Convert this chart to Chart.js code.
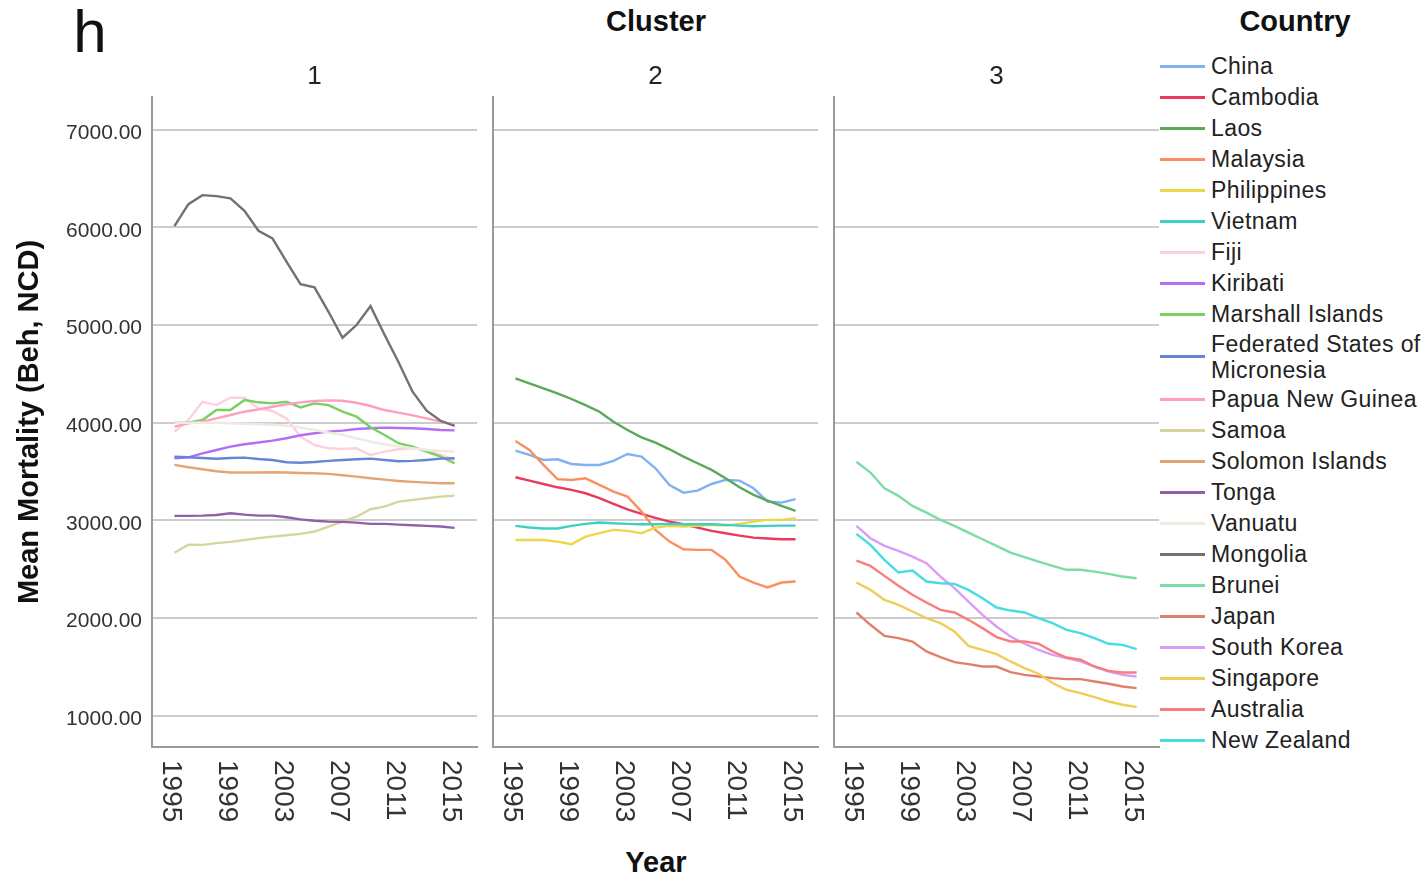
<!DOCTYPE html>
<html>
<head>
<meta charset="utf-8">
<title>Mean Mortality by Cluster</title>
<script src="https://cdn.jsdelivr.net/npm/chart.js@4.4.1/dist/chart.umd.min.js"></script>
<style>
  html, body { margin: 0; padding: 0; background: #fff; }
  body {
    width: 1427px; height: 880px; position: relative; overflow: hidden;
    font-family: "Liberation Sans", Arial, sans-serif; color: #111;
  }
  canvas { position: absolute; top: 0; }
  .lbl { position: absolute; transform: translate(-50%, -50%); line-height: 1; white-space: nowrap; }
  .big { font-size: 29px; font-weight: bold; }
  .panel { font-size: 26px; color: #222; }
  #legend { position: absolute; left: 1160px; top: 50.5px; }
  .item { display: flex; align-items: center; min-height: 31px; padding: 1px 0; box-sizing: border-box; }
  .swatch { width: 45px; height: 3px; margin-right: 6px; flex: none; }
  .name { font-size: 23px; letter-spacing: 0.4px; line-height: 26px; width: 216px; color: #222; }
</style>
</head>
<body>

<div class="lbl" style="left:90px; top:32px; font-size:60px;">h</div>
<div class="lbl big" style="left:656px; top:20.5px;">Cluster</div>
<div class="lbl big" style="left:1295px; top:20.5px;">Country</div>
<div class="lbl big" style="left:656px; top:862px;">Year</div>
<div id="legend"></div>

<script>
// ---- data ----
const years = [1995, 1996, 1997, 1998, 1999, 2000, 2001, 2002, 2003, 2004, 2005,
               2006, 2007, 2008, 2009, 2010, 2011, 2012, 2013, 2014, 2015];
const yearTicks = [1995, 1999, 2003, 2007, 2011, 2015];
const mortalityTicks = [1000, 2000, 3000, 4000, 5000, 6000, 7000];
const clusters = ['1', '2', '3'];

const countries = ['China', 'Cambodia', 'Laos', 'Malaysia', 'Philippines', 'Vietnam',
  'Fiji', 'Kiribati', 'Marshall Islands', 'Federated States of Micronesia',
  'Papua New Guinea', 'Samoa', 'Solomon Islands', 'Tonga', 'Vanuatu', 'Mongolia',
  'Brunei', 'Japan', 'South Korea', 'Singapore', 'Australia', 'New Zealand'];
const countryCluster = ['2', '2', '2', '2', '2', '2',
  '1', '1', '1', '1', '1', '1', '1', '1', '1', '1',
  '3', '3', '3', '3', '3', '3'];

// cluster 2
const china       = [3714, 3670, 3619, 3626, 3578, 3568, 3568, 3609, 3680, 3653, 3534, 3363, 3284, 3305, 3373, 3414, 3407, 3329, 3193, 3182, 3217];
const cambodia    = [3442, 3407, 3373, 3339, 3312, 3278, 3227, 3169, 3114, 3066, 3025, 2988, 2961, 2926, 2893, 2869, 2844, 2824, 2814, 2807, 2807];
const laos        = [4455, 4403, 4352, 4301, 4243, 4181, 4113, 4011, 3926, 3851, 3797, 3728, 3653, 3585, 3517, 3431, 3339, 3261, 3203, 3148, 3097];
const malaysia    = [3813, 3721, 3568, 3422, 3414, 3431, 3363, 3295, 3244, 3090, 2903, 2783, 2705, 2698, 2698, 2596, 2425, 2364, 2313, 2364, 2374];
const philippines = [2800, 2800, 2800, 2783, 2756, 2834, 2869, 2903, 2893, 2869, 2926, 2944, 2937, 2944, 2954, 2947, 2964, 2988, 3005, 3005, 3022];
const vietnam     = [2944, 2927, 2917, 2917, 2944, 2964, 2978, 2971, 2964, 2961, 2961, 2964, 2961, 2961, 2961, 2954, 2947, 2940, 2944, 2947, 2947];
// cluster 1
const fiji        = [3908, 4028, 4215, 4181, 4256, 4256, 4148, 4120, 4045, 3857, 3772, 3738, 3731, 3738, 3670, 3704, 3728, 3738, 3721, 3670, 3619];
const kiribati    = [3636, 3646, 3687, 3721, 3756, 3780, 3797, 3817, 3841, 3872, 3892, 3909, 3919, 3936, 3943, 3950, 3946, 3943, 3936, 3926, 3922];
const marshall    = [4000, 4000, 4028, 4130, 4130, 4233, 4209, 4198, 4215, 4157, 4198, 4181, 4113, 4062, 3953, 3875, 3790, 3756, 3704, 3653, 3585];
const micronesia  = [3653, 3646, 3639, 3632, 3639, 3643, 3629, 3619, 3595, 3591, 3598, 3609, 3619, 3626, 3632, 3619, 3605, 3609, 3619, 3632, 3636];
const papua       = [3960, 3994, 4011, 4045, 4079, 4113, 4137, 4164, 4188, 4209, 4222, 4229, 4225, 4205, 4171, 4130, 4103, 4076, 4045, 4011, 3977];
const samoa       = [2668, 2750, 2749, 2767, 2780, 2800, 2818, 2834, 2848, 2862, 2886, 2937, 2988, 3039, 3114, 3141, 3192, 3210, 3227, 3244, 3254];
const solomon     = [3568, 3544, 3524, 3503, 3490, 3490, 3490, 3493, 3490, 3486, 3483, 3476, 3462, 3448, 3431, 3417, 3404, 3394, 3387, 3380, 3380];
const tonga       = [3046, 3046, 3049, 3056, 3073, 3059, 3049, 3049, 3032, 3011, 2997, 2988, 2985, 2977, 2964, 2964, 2957, 2950, 2944, 2937, 2923];
const vanuatu     = [4000, 4000, 4000, 4000, 3995, 3990, 3985, 3980, 3970, 3950, 3926, 3900, 3875, 3840, 3807, 3780, 3756, 3740, 3721, 3710, 3704];
const mongolia    = [6013, 6238, 6330, 6320, 6297, 6170, 5966, 5888, 5649, 5419, 5386, 5136, 4870, 5000, 5194, 4900, 4620, 4318, 4124, 4020, 3967];
// cluster 3
const brunei      = [3601, 3490, 3329, 3251, 3148, 3080, 3005, 2944, 2875, 2807, 2739, 2671, 2623, 2578, 2534, 2494, 2494, 2476, 2453, 2425, 2408];
const japan       = [2057, 1931, 1818, 1795, 1760, 1658, 1600, 1549, 1529, 1504, 1504, 1446, 1419, 1402, 1385, 1375, 1375, 1351, 1327, 1300, 1283];
const southKorea  = [2944, 2818, 2739, 2688, 2630, 2562, 2425, 2306, 2169, 2033, 1914, 1811, 1737, 1675, 1624, 1590, 1556, 1504, 1453, 1419, 1402];
const singapore   = [2364, 2289, 2187, 2135, 2067, 2000, 1948, 1862, 1716, 1675, 1631, 1556, 1488, 1430, 1335, 1266, 1232, 1191, 1146, 1113, 1089];
const australia   = [2589, 2534, 2432, 2330, 2238, 2159, 2084, 2057, 1982, 1897, 1805, 1760, 1760, 1737, 1658, 1596, 1573, 1504, 1460, 1443, 1443];
const newZealand  = [2862, 2749, 2596, 2466, 2486, 2374, 2357, 2350, 2289, 2204, 2108, 2077, 2057, 2000, 1948, 1880, 1846, 1795, 1737, 1726, 1682];

const seriesValues = [china, cambodia, laos, malaysia, philippines, vietnam,
  fiji, kiribati, marshall, micronesia, papua, samoa, solomon, tonga, vanuatu, mongolia,
  brunei, japan, southKorea, singapore, australia, newZealand];

// ---- styles ----
const lineColors = ['#7fb2f0', '#e8395f', '#5aa85a', '#fa9060', '#ead84a', '#3fd0c0',
  '#fdd0de', '#b36ef5', '#78d060', '#6585d5', '#ff9ec0', '#d8d49e', '#e3a574', '#8f5fa8',
  '#eeeadf', '#727272', '#7bdca6', '#e0806a', '#dc9cf5', '#f0cd58', '#f87e7e', '#45dce4'];

const FONT = '"Liberation Sans", Arial, sans-serif';
const CANVAS_H = 880;
const AREA_TOP = 97;
const AREA_BOTTOM = 747;
const PANEL_W = 325;
const panelLeft = [152, 493, 834];

// Year labels read top-to-bottom under each panel
const yearLabels = {
  id: 'yearLabels',
  afterDraw(chart) {
    const sc = chart.scales.x;
    const ctx = chart.ctx;
    ctx.save();
    ctx.font = '28px ' + FONT;
    ctx.fillStyle = '#333';
    ctx.textAlign = 'left';
    ctx.textBaseline = 'middle';
    sc.ticks.forEach(t => {
      ctx.save();
      ctx.translate(sc.getPixelForValue(t.value) - 4, chart.chartArea.bottom + 13);
      ctx.rotate(Math.PI / 2);
      ctx.fillText(String(t.value), 0, 0);
      ctx.restore();
    });
    ctx.restore();
  }
};

function buildPanel(ci) {
  const first = ci === 0;
  const axisW = first ? panelLeft[0] : 8;
  const canvas = document.createElement('canvas');
  canvas.width = axisW + PANEL_W + 2;
  canvas.height = CANVAS_H;
  canvas.style.left = (panelLeft[ci] - axisW) + 'px';
  document.body.appendChild(canvas);

  const label = document.createElement('div');
  label.className = 'lbl panel';
  label.style.left = (panelLeft[ci] + PANEL_W / 2) + 'px';
  label.style.top = '75px';
  label.textContent = clusters[ci];
  document.body.appendChild(label);

  const datasets = [];
  countries.forEach((name, i) => {
    if (countryCluster[i] !== clusters[ci]) return;
    datasets.push({
      label: name,
      data: years.map((yr, k) => ({ x: yr, y: seriesValues[i][k] })),
      borderColor: lineColors[i],
      backgroundColor: lineColors[i],
      borderWidth: 2.4,
      pointRadius: 0,
      tension: 0,
      fill: false
    });
  });
  datasets.reverse();

  new Chart(canvas, {
    type: 'line',
    data: { datasets },
    options: {
      responsive: false,
      animation: false,
      devicePixelRatio: 1,
      layout: { padding: { top: AREA_TOP, right: 2, bottom: 0, left: 0 } },
      plugins: { legend: { display: false }, tooltip: { enabled: false }, title: { display: false } },
      scales: {
        x: {
          type: 'linear', min: 1993.4, max: 2016.6,
          afterBuildTicks: s => { s.ticks = yearTicks.map(v => ({ value: v })); },
          afterFit: s => { s.height = CANVAS_H - AREA_BOTTOM; },
          ticks: { display: false },
          grid: { display: false },
          border: { display: true, color: '#9a9a9a', width: 2 }
        },
        y: {
          type: 'linear', min: 680, max: 7335,
          afterBuildTicks: s => { s.ticks = mortalityTicks.map(v => ({ value: v })); },
          afterFit: s => { s.width = axisW; },
          ticks: {
            display: first, padding: 10, labelOffset: 3.5, color: '#333',
            font: { size: 21, family: FONT },
            callback: v => Number(v).toFixed(2)
          },
          grid: { color: '#cccccc', lineWidth: 2, drawTicks: false },
          border: { display: true, color: '#9a9a9a', width: 2 },
          title: {
            display: first, text: 'Mean Mortality (Beh, NCD)', color: '#111',
            font: { size: 29, weight: 'bold', family: FONT },
            padding: { top: 13, bottom: 0 }
          }
        }
      }
    },
    plugins: [yearLabels]
  });
}

clusters.forEach((c, ci) => buildPanel(ci));

// Country legend
const legend = document.getElementById('legend');
countries.forEach((name, i) => {
  const row = document.createElement('div');
  row.className = 'item';
  const sw = document.createElement('span');
  sw.className = 'swatch';
  sw.style.background = lineColors[i];
  const tx = document.createElement('span');
  tx.className = 'name';
  tx.textContent = name;
  row.appendChild(sw);
  row.appendChild(tx);
  legend.appendChild(row);
});
</script>
</body>
</html>
